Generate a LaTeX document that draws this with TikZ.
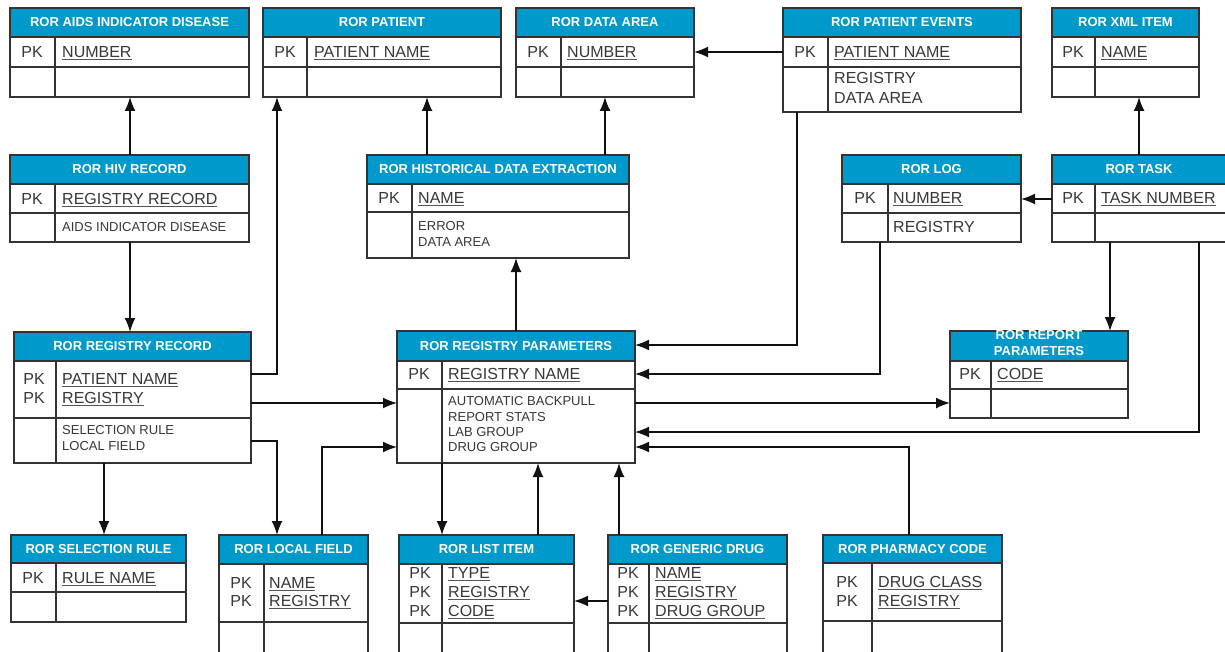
\documentclass[tikz,border=0pt]{standalone}
\usepackage{fontspec}
\setmainfont{Liberation Sans}
\usetikzlibrary{arrows.meta}
\definecolor{hdrblue}{HTML}{0099CC}
\definecolor{txtgray}{HTML}{383838}
\definecolor{ulgray}{HTML}{555555}
\definecolor{linegray}{HTML}{333333}
\definecolor{arrowcol}{HTML}{111111}
\newcommand\myul[1]{\vtop{\hbox{#1}\kern1.3pt{\color{ulgray}\hrule height 1.3pt}}}
\newcommand\ertable[9]{%
  \node[tblnode, anchor=north west, minimum width={(#4-#2)*1pt}, minimum height={(#5-#3)*1pt}] (#1) at (#2,#3) {};
  \fill[hdr] (#1.north west) rectangle (#1.east |- 0,#6);
  \draw[tblline] (#1.west |- 0,#6) -- (#1.east |- 0,#6);
  \draw[tblline] (#1.west |- 0,#7) -- (#1.east |- 0,#7);
  \draw[tblline] (#8,#6) -- (#1.south -| #8,0);
  \draw[tblline] (#1.north west) rectangle (#1.south east);
  \node[ttl] (#1-t) at ({(#2+#4)/2},{(#3+#6)/2}) {#9};
}
\begin{document}
\begin{tikzpicture}[x=1pt,y=-1pt,
  tblnode/.style={inner sep=0pt,outer sep=0pt,draw=none},
  hdr/.style={fill=hdrblue},
  tblline/.style={draw=linegray,line width=1.6pt},
  ttl/.style={text=white,font=\fontsize{13}{16}\selectfont\bfseries,inner sep=0pt,align=center},
  pk/.style={anchor=base,yshift=-5.6pt,text=txtgray,font=\fontsize{16}{18}\selectfont,inner sep=0pt},
  fld/.style={anchor=base west,yshift=-5.6pt,text=txtgray,font=\fontsize{16}{18}\selectfont,inner sep=0pt},
  sml/.style={anchor=base west,yshift=-4.7pt,text=txtgray,font=\fontsize{13}{15}\selectfont,inner sep=0pt},
  arr/.style={draw=arrowcol,line width=1.6pt,-{Latex[length=14pt,width=11pt]}},
]
\fill[white] (0,0) rectangle (1225,652);
\useasboundingbox (0,0) rectangle (1225,652);

% tables
\ertable{aids}{10}{8}{249}{97}{37}{67}{55}{ROR AIDS INDICATOR DISEASE}
\ertable{patient}{263}{8}{501}{97}{37}{67}{307}{ROR PATIENT}
\ertable{dataarea}{516}{8}{694}{97}{37}{67}{561}{ROR DATA AREA}
\ertable{events}{783}{8}{1021}{112}{37}{67}{828}{ROR PATIENT EVENTS}
\ertable{xml}{1052}{8}{1199}{97}{37}{67}{1095}{ROR XML ITEM}
\ertable{hiv}{10}{155}{249}{242}{184}{213}{55}{ROR HIV RECORD}
\ertable{hist}{367}{155}{629}{258}{184}{212}{412}{ROR HISTORICAL DATA EXTRACTION}
\ertable{log}{842}{155}{1021}{242}{184}{213}{888}{ROR LOG}
\ertable{task}{1052}{155}{1230}{242}{184}{213}{1095}{}
\node[ttl] (task-title) at (1139,169.5) {ROR TASK};
\ertable{rr}{14}{332}{251}{463}{361}{418}{56}{ROR REGISTRY RECORD}
\ertable{params}{397}{331}{635}{463}{361}{389}{442}{ROR REGISTRY PARAMETERS}
\ertable{report}{950}{331}{1128}{418}{361}{389}{991}{}
\node[ttl] (report-title) at (1039,343) {ROR REPORT\\PARAMETERS};
\ertable{selrule}{11}{535}{186}{622}{563}{592}{56}{ROR SELECTION RULE}
\ertable{local}{219}{535}{368}{654}{564}{622}{264}{ROR LOCAL FIELD}
\ertable{list}{399}{535}{574}{654}{564}{623}{442}{ROR LIST ITEM}
\ertable{drug}{608}{535}{787}{654}{564}{623}{649}{ROR GENERIC DRUG}
\ertable{pharm}{823}{535}{1002}{654}{563}{621}{872}{ROR PHARMACY CODE}

% texts
\node[pk] (aids-k) at (32,52) {PK};
\node[fld] (aids-f) at (62,52) {\myul{NUMBER}};
\node[pk] (patient-k) at (285,52) {PK};
\node[fld] (patient-f) at (314,52) {\myul{PATIENT NAME}};
\node[pk] (dataarea-k) at (538,52) {PK};
\node[fld] (dataarea-f) at (567,52) {\myul{NUMBER}};
\node[pk] (events-k) at (805,52) {PK};
\node[fld] (events-f) at (834,52) {\myul{PATIENT NAME}};
\node[fld] (events-a1) at (834,78) {REGISTRY};
\node[fld] (events-a2) at (834,98) {DATA AREA};
\node[pk] (xml-k) at (1073,52) {PK};
\node[fld] (xml-f) at (1101,52) {\myul{NAME}};

\node[pk] (hiv-k) at (32,199) {PK};
\node[fld] (hiv-f) at (62,199) {\myul{REGISTRY RECORD}};
\node[sml] (hiv-a) at (62,227) {AIDS INDICATOR DISEASE};
\node[pk] (hist-k) at (389,198) {PK};
\node[fld] (hist-f) at (418,198) {\myul{NAME}};
\node[sml] (hist-a1) at (418,226) {ERROR};
\node[sml] (hist-a2) at (418,242) {DATA AREA};
\node[pk] (log-k) at (865,198) {PK};
\node[fld] (log-f) at (893,198) {\myul{NUMBER}};
\node[fld] (log-a) at (893,227) {REGISTRY};
\node[pk] (task-k) at (1073,198) {PK};
\node[fld] (task-f) at (1101,198) {\myul{TASK NUMBER}};

\node[pk] (rr-k1) at (34,379) {PK};
\node[pk] (rr-k2) at (34,398) {PK};
\node[fld] (rr-f1) at (62,379) {\myul{PATIENT NAME}};
\node[fld] (rr-f2) at (62,398) {\myul{REGISTRY}};
\node[sml] (rr-a1) at (62,430) {SELECTION RULE};
\node[sml] (rr-a2) at (62,446) {LOCAL FIELD};

\node[pk] (params-k) at (419,374) {PK};
\node[fld] (params-f) at (448,374) {\myul{REGISTRY NAME}};
\node[sml] (params-a1) at (448,401) {AUTOMATIC BACKPULL};
\node[sml] (params-a2) at (448,417) {REPORT STATS};
\node[sml] (params-a3) at (448,432) {LAB GROUP};
\node[sml] (params-a4) at (448,447) {DRUG GROUP};

\node[pk] (report-k) at (970,374) {PK};
\node[fld] (report-f) at (997,374) {\myul{CODE}};

\node[pk] (selrule-k) at (33,578) {PK};
\node[fld] (selrule-f) at (62,578) {\myul{RULE NAME}};

\node[pk] (local-k1) at (241,583) {PK};
\node[pk] (local-k2) at (241,601) {PK};
\node[fld] (local-f1) at (269,583) {\myul{NAME}};
\node[fld] (local-f2) at (269,601) {\myul{REGISTRY}};

\node[pk] (list-k1) at (420,573) {PK};
\node[pk] (list-k2) at (420,592) {PK};
\node[pk] (list-k3) at (420,611) {PK};
\node[fld] (list-f1) at (448,573) {\myul{TYPE}};
\node[fld] (list-f2) at (448,592) {\myul{REGISTRY}};
\node[fld] (list-f3) at (448,611) {\myul{CODE}};

\node[pk] (drug-k1) at (628,573) {PK};
\node[pk] (drug-k2) at (628,592) {PK};
\node[pk] (drug-k3) at (628,611) {PK};
\node[fld] (drug-f1) at (655,573) {\myul{NAME}};
\node[fld] (drug-f2) at (655,592) {\myul{REGISTRY}};
\node[fld] (drug-f3) at (655,611) {\myul{DRUG GROUP}};

\node[pk] (pharm-k1) at (847,582) {PK};
\node[pk] (pharm-k2) at (847,601) {PK};
\node[fld] (pharm-f1) at (878,582) {\myul{DRUG CLASS}};
\node[fld] (pharm-f2) at (878,601) {\myul{REGISTRY}};

% connectors
\draw[arr] (hiv.north -| 130,0) -- (aids.south -| 130,0);
\draw[arr] (hiv.south -| 130,0) -- (rr.north -| 130,0);
\draw[arr] (rr.east |- 0,374) -| (patient.south -| 277,0);
\draw[arr] (rr.east |- 0,403) -- (params.west |- 0,403);
\draw[arr] (rr.east |- 0,441) -| (local.north -| 277,0);
\draw[arr] (local.north -| 322,0) |- (params.west |- 0,447);
\draw[arr] (rr.south -| 104,0) -- (selrule.north -| 104,0);
\draw[arr] (hist.north -| 427,0) -- (patient.south -| 427,0);
\draw[arr] (hist.north -| 605,0) -- (dataarea.south -| 605,0);
\draw[arr] (params.north -| 516,0) -- (hist.south -| 516,0);
\draw[arr] (events.west |- 0,52) -- (dataarea.east |- 0,52);
\draw[arr] (events.south -| 797,0) |- (params.east |- 0,345);
\draw[arr] (log.south -| 880,0) |- (params.east |- 0,374);
\draw[arr] (params.east |- 0,403) -- (report.west |- 0,403);
\draw[arr] (task.south -| 1199,0) |- (params.east |- 0,432);
\draw[arr] (task.west |- 0,199) -- (log.east |- 0,199);
\draw[arr] (task.north -| 1139,0) -- (xml.south -| 1139,0);
\draw[arr] (task.south -| 1110,0) -- (report.north -| 1110,0);
\draw[arr] (pharm.north -| 909,0) |- (params.east |- 0,447);
\draw[arr] (params.south -| 442,0) -- (list.north -| 442,0);
\draw[arr] (list.north -| 538,0) -- (params.south -| 538,0);
\draw[arr] (drug.north -| 619,0) -- (params.south -| 619,0);
\draw[arr] (drug.west |- 0,601) -- (list.east |- 0,601);
\end{tikzpicture}
\end{document}
